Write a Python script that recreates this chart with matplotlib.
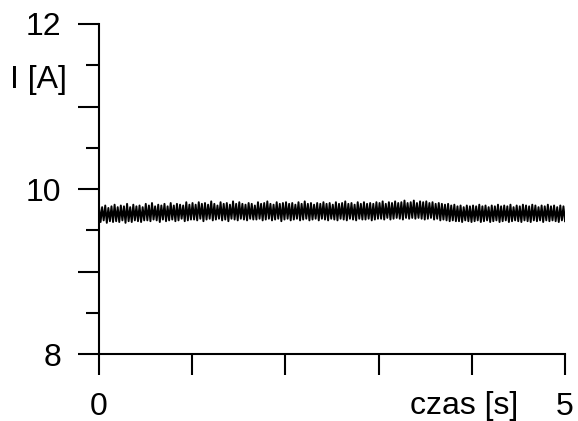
import numpy as np
import matplotlib
matplotlib.use('Agg')
import matplotlib.pyplot as plt

plt.rcParams['font.family'] = ['Liberation Sans', 'DejaVu Sans']

# measured current, 300 samples over 5 s
current = [
    9.79, 9.60, 9.78, 9.62, 9.80, 9.59, 9.77, 9.61, 9.79, 9.60,
    9.81, 9.61, 9.78, 9.60, 9.80, 9.62, 9.79, 9.59, 9.82, 9.61,
    9.78, 9.60, 9.81, 9.62, 9.79, 9.61, 9.80, 9.60, 9.78, 9.62,
    9.82, 9.62, 9.80, 9.61, 9.83, 9.63, 9.79, 9.62, 9.81, 9.60,
    9.80, 9.63, 9.82, 9.61, 9.79, 9.62, 9.83, 9.63, 9.80, 9.61,
    9.82, 9.62, 9.81, 9.64, 9.80, 9.61, 9.84, 9.62, 9.81, 9.63,
    9.83, 9.63, 9.81, 9.62, 9.84, 9.64, 9.82, 9.61, 9.83, 9.63,
    9.81, 9.64, 9.85, 9.62, 9.82, 9.63, 9.80, 9.64, 9.84, 9.62,
    9.82, 9.63, 9.83, 9.61, 9.81, 9.64, 9.85, 9.63, 9.82, 9.62,
    9.84, 9.64, 9.82, 9.63, 9.81, 9.62, 9.83, 9.64, 9.82, 9.63,
    9.80, 9.63, 9.84, 9.64, 9.82, 9.62, 9.83, 9.63, 9.85, 9.64,
    9.82, 9.62, 9.81, 9.63, 9.84, 9.64, 9.82, 9.61, 9.83, 9.63,
    9.84, 9.64, 9.82, 9.62, 9.83, 9.63, 9.81, 9.64, 9.84, 9.62,
    9.82, 9.63, 9.85, 9.64, 9.82, 9.62, 9.83, 9.63, 9.81, 9.64,
    9.83, 9.62, 9.82, 9.64, 9.84, 9.63, 9.82, 9.62, 9.83, 9.64,
    9.81, 9.63, 9.84, 9.62, 9.82, 9.64, 9.83, 9.63, 9.85, 9.62,
    9.82, 9.64, 9.83, 9.63, 9.81, 9.62, 9.84, 9.64, 9.82, 9.63,
    9.84, 9.63, 9.82, 9.64, 9.83, 9.62, 9.82, 9.63, 9.84, 9.64,
    9.83, 9.64, 9.85, 9.63, 9.82, 9.65, 9.84, 9.63, 9.83, 9.64,
    9.85, 9.65, 9.83, 9.64, 9.84, 9.63, 9.86, 9.65, 9.83, 9.64,
    9.84, 9.65, 9.86, 9.64, 9.83, 9.65, 9.85, 9.64, 9.84, 9.63,
    9.85, 9.64, 9.83, 9.65, 9.84, 9.63, 9.82, 9.64, 9.83, 9.62,
    9.82, 9.63, 9.81, 9.62, 9.82, 9.61, 9.80, 9.62, 9.81, 9.61,
    9.79, 9.61, 9.80, 9.60, 9.78, 9.62, 9.80, 9.61, 9.79, 9.60,
    9.80, 9.61, 9.79, 9.62, 9.81, 9.60, 9.79, 9.61, 9.80, 9.62,
    9.78, 9.60, 9.80, 9.61, 9.79, 9.62, 9.81, 9.60, 9.79, 9.61,
    9.80, 9.62, 9.79, 9.60, 9.81, 9.61, 9.78, 9.62, 9.80, 9.61,
    9.79, 9.60, 9.81, 9.62, 9.80, 9.61, 9.79, 9.60, 9.81, 9.62,
    9.80, 9.61, 9.78, 9.62, 9.80, 9.60, 9.79, 9.62, 9.81, 9.61,
    9.79, 9.62, 9.80, 9.61, 9.78, 9.60, 9.80, 9.62, 9.79, 9.61,
]
t = np.linspace(0, 5, len(current))

x_ticks = [0, 1, 2, 3, 4, 5]
x_labels = ['0', '', '', '', '', '5']
y_major = [8, 9, 10, 11, 12]
y_labels = ['8', '', '10', '', '12']
y_minor = [8.5, 9.5, 10.5, 11.5]

fig = plt.figure(figsize=(5.78, 4.21), dpi=100)
ax = fig.add_axes([0.1713, 0.1591, 0.8062, 0.7839])

ax.plot(t, current, color='black', lw=1.4)

ax.set_xlim(0, 5)
ax.set_ylim(8, 12)
for side in ['top', 'right']:
    ax.spines[side].set_visible(False)
for side in ['left', 'bottom']:
    ax.spines[side].set_linewidth(1.5)

ax.set_xticks(x_ticks)
ax.set_xticklabels(x_labels)
ax.set_yticks(y_major)
ax.set_yticklabels(y_labels)
ax.set_yticks(y_minor, minor=True)

ax.tick_params(axis='x', direction='out', length=15, width=1.5, pad=12, labelsize=23)
ax.tick_params(axis='y', which='major', direction='out', length=15, width=1.5, pad=12, labelsize=23)
ax.tick_params(axis='y', which='minor', direction='out', length=9.5, width=1.5)

ax.text(3.92, 7.37, 'czas [s]', fontsize=23, ha='center', va='center')
ax.text(-0.65, 11.32, 'I [A]', fontsize=23, ha='center', va='center')

fig.savefig('out.png', dpi=100)
